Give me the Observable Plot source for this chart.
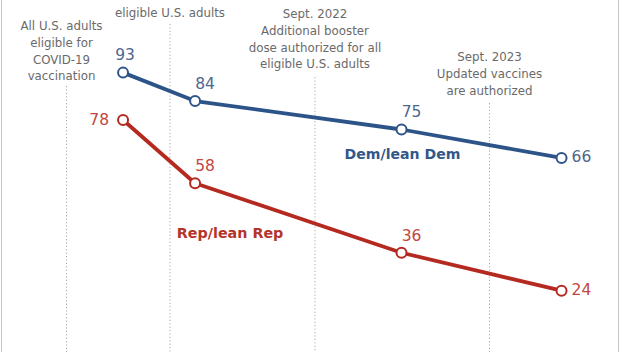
<!DOCTYPE html>
<html>
<head>
<meta charset="utf-8">
<script src="https://cdn.jsdelivr.net/npm/d3@7"></script>
<script src="https://cdn.jsdelivr.net/npm/@observablehq/plot@0.6"></script>
<style>
  html, body { margin: 0; padding: 0; background: #fff; }
  #wrap { position: relative; width: 621px; height: 352px; overflow: hidden; }
  #frame { position: absolute; left: 1px; top: 0; width: 616px; height: 352px;
           border-left: 1.5px solid #c4c4c4; border-right: 1.5px solid #c4c4c4; pointer-events: none; }
  svg { display: block; }
</style>
</head>
<body>
<div id="wrap"><div id="frame"></div></div>
<script>
// ---- Data ----
const surveyDates = ["2021-08-14", "2022-01-10", "2023-03-13", "2024-02-07"];
const demValues = [93, 84, 75, 66];
const repValues = [78, 58, 36, 24];
const seriesNames = ["Dem/lean Dem", "Rep/lean Rep"];
const eventDates = ["2021-04-19", "2021-11-19", "2022-09-15", "2023-09-11"];
const eventLabels = [
  "All U.S. adults\neligible for\nCOVID-19\nvaccination",
  "Nov. 2021\nBoosters for all\neligible U.S. adults",
  "Sept. 2022\nAdditional booster\ndose authorized for all\neligible U.S. adults",
  "Sept. 2023\nUpdated vaccines\nare authorized"
];

// ---- Tables built from the arrays ----
const rows = [];
surveyDates.forEach((d, i) => {
  rows.push({party: seriesNames[0], date: new Date(d), value: demValues[i], i});
  rows.push({party: seriesNames[1], date: new Date(d), value: repValues[i], i});
});
const events = eventDates.map((d, i) => ({date: new Date(d), label: eventLabels[i], i}));

// ---- Styles / layout ----
const lineColors = ["#2d5488", "#b52a20"];
const numColors = ["#4d6790", "#c2473f"];
const nameColors = ["#34578a", "#b5342a"];
const font = "DejaVu Sans, Verdana, sans-serif";
const eventTextTop = [18, -29, 6, 49];
const eventTextDx = [-5, 0, 0, 0];
const eventRuleTop = [86, 24, 77, 103];

const isDem = d => d.party === seriesNames[0];
const labelPlacement = d => {
  if (d.i === 3) return "right";
  if (d.i === 0) return isDem(d) ? "top" : "left";
  return "topright";
};

const marks = [];
events.forEach((e, k) => {
  marks.push(Plot.ruleX([e], {x: "date", insetTop: eventRuleTop[k], stroke: "#a9a9a9",
    strokeWidth: 1, strokeDasharray: "1.2,2.2"}));
  marks.push(Plot.text([e], {x: "date", text: "label", frameAnchor: "top", lineAnchor: "top",
    dy: eventTextTop[k], dx: eventTextDx[k], fontSize: 11.8, lineHeight: 1.41, fill: "#6a6a6a",
    fontFamily: font}));
});

marks.push(Plot.line(rows, {x: "date", y: "value", z: "party", stroke: "party", strokeWidth: 3.8,
  strokeLinejoin: "round", strokeLinecap: "round"}));
marks.push(Plot.dot(rows, {x: "date", y: "value", stroke: "party", fill: "white", r: 5, strokeWidth: 2}));

const place = {
  top: {dx: 2, dy: -18, textAnchor: "middle"},
  topright: {dx: 10, dy: -17, textAnchor: "middle"},
  left: {dx: -14, dy: 0, textAnchor: "end"},
  right: {dx: 10, dy: -1, textAnchor: "start"}
};
for (const [key, opt] of Object.entries(place)) {
  seriesNames.forEach((name, s) => {
    const sub = rows.filter(d => d.party === name && labelPlacement(d) === key);
    if (!sub.length) return;
    marks.push(Plot.text(sub, {x: "date", y: "value", text: d => String(d.value), fill: numColors[s],
      fontSize: 15.5, fontFamily: font, ...opt}));
  });
}

// series name labels
marks.push(Plot.text(rows.filter(d => isDem(d) && d.i === 2), {x: "date", y: "value", text: "party",
  dx: 1, dy: 25, fill: nameColors[0], fontWeight: "bold", fontSize: 14.1, fontFamily: font}));
marks.push(Plot.text(rows.filter(d => !isDem(d) && d.i === 1), {x: "date", y: "value", text: "party",
  dx: 35, dy: 50, fill: nameColors[1], fontWeight: "bold", fontSize: 14.3, fontFamily: font}));

const chart = Plot.plot({
  width: 621,
  height: 352,
  margin: 0,
  style: {background: "transparent", overflow: "hidden"},
  x: {type: "utc", domain: [new Date(eventDates[0]), new Date(eventDates[3])], range: [66, 489], axis: null},
  y: {domain: [0, 100], range: [366, 50], axis: null},
  color: {domain: seriesNames, range: lineColors},
  marks
});
document.getElementById("wrap").prepend(chart);
</script>
</body>
</html>
